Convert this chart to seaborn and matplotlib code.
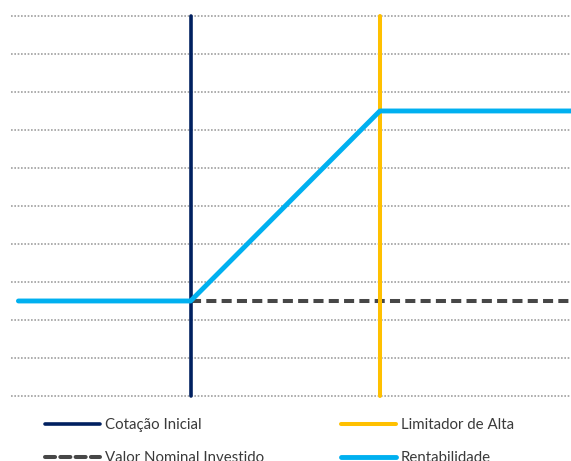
import matplotlib
matplotlib.use("Agg")
import matplotlib.pyplot as plt
import seaborn as sns
import pandas as pd

# ---- data ----
rent_x = [9, 100, 200, 301]
rent_y = [2.5, 2.5, 7.5, 7.5]
nominal_x = [100, 301]
nominal_y = [2.5, 2.5]
cotacao_x = [100, 100]
limitador_x = [200, 200]
vertical_y = [0, 10]
labels = ["Cotação Inicial", "Valor Nominal Investido", "Limitador de Alta", "Rentabilidade"]

NAVY = "#002060"
YELLOW = "#FFC000"
BLUE = "#00B0F0"
DARK = "#474747"
GRID = "#A0A0A0"

sns.set_theme(style="white")
plt.rcParams["font.family"] = ["Lato", "DejaVu Sans"]

fig = plt.figure(figsize=(5.71, 4.61), dpi=100)
ax = fig.add_axes([0.019, 0.1328, 0.981, 0.8408])

ax.set_xlim(5, 301)
ax.set_ylim(-0.1, 10.1)
ax.set_yticks(range(0, 11))
ax.set_xticks([])
ax.yaxis.grid(True, color=GRID, linestyle=(0, (1, 1)), linewidth=1.2)
ax.set_axisbelow(True)
ax.tick_params(left=False, bottom=False, labelleft=False, labelbottom=False)
for s in ax.spines.values():
    s.set_visible(False)

sns.lineplot(x=cotacao_x, y=vertical_y, ax=ax, color=NAVY, lw=2.6,
             estimator=None, sort=False, label=labels[0], zorder=3)
sns.lineplot(x=nominal_x, y=nominal_y, ax=ax, color=DARK, lw=2.9,
             estimator=None, sort=False, label=labels[1], zorder=2,
             linestyle=(0, (2.5, 1.3)))
sns.lineplot(x=limitador_x, y=vertical_y, ax=ax, color=YELLOW, lw=2.9,
             estimator=None, sort=False, label=labels[2], zorder=3)
sns.lineplot(x=rent_x, y=rent_y, ax=ax, color=BLUE, lw=3.5,
             estimator=None, sort=False, label=labels[3], zorder=4)

handles, lbls = ax.get_legend_handles_labels()
ax.get_legend().remove()
fs = 15 * 72 / 100
leg = fig.legend(handles, lbls, ncol=2, loc="upper left",
                 bbox_to_anchor=(45 / 571, 1 - 418 / 461),
                 frameon=False, fontsize=fs, borderpad=0, borderaxespad=0,
                 handlelength=3.67, handletextpad=0.33, columnspacing=5.1,
                 labelspacing=1.27, labelcolor="#3A3A3A")
for h in leg.legend_handles:
    h.set_solid_capstyle("round")
    h.set_dash_capstyle("round")

fig.savefig("out.png", dpi=100)
